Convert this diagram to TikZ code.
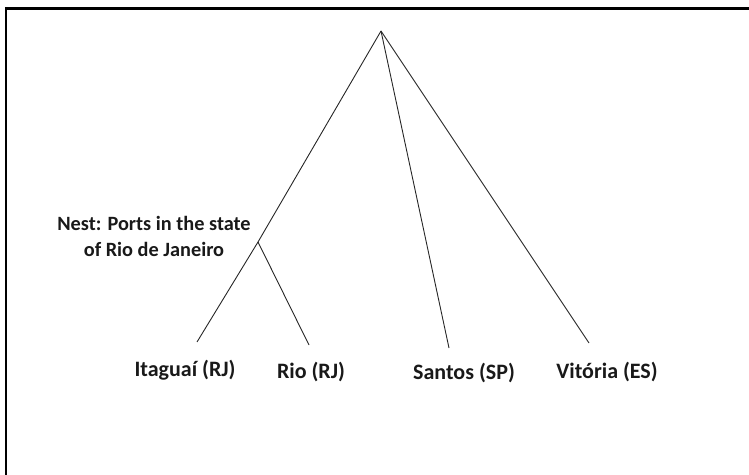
\documentclass[tikz,border=0pt]{standalone}
\usepackage{fontspec}
\setmainfont{Carlito}
\begin{document}
\begin{tikzpicture}[x=1bp,y=-1bp,
  branch/.style={line width=0.9bp,black!85},
  lbl/.style={font=\bfseries\fontsize{22bp}{26bp}\selectfont,inner sep=0pt,align=center,text=black!90},
  nestlbl/.style={lbl,font=\bfseries\fontsize{20.3bp}{26bp}\selectfont}]
\useasboundingbox (0,0) rectangle (749,475);
\draw[line width=2.6bp] (6,475) -- (6,8.5) -- (749,8.5);
\coordinate (top) at (381,31);
\coordinate (nest) at (258,242);
\coordinate (eI) at (197,342);
\coordinate (eR) at (309,345);
\coordinate (eS) at (449,348);
\coordinate (eV) at (589,343);
\draw[branch] (top) -- (nest) -- (eI);
\draw[branch] (nest) -- (eR);
\draw[branch] (top) -- (eS);
\draw[branch] (top) -- (eV);
\node[nestlbl] (nestlabel) at (154,236) {Nest: Ports in the state\\of Rio de Janeiro};
\node[lbl] (itag) at (185,370) {Itaguaí (RJ)};
\node[lbl] (rio) at (311,372) {Rio (RJ)};
\node[lbl] (santos) at (464,373) {Santos (SP)};
\node[lbl] (vit) at (607,372) {Vitória (ES)};
\end{tikzpicture}
\end{document}
